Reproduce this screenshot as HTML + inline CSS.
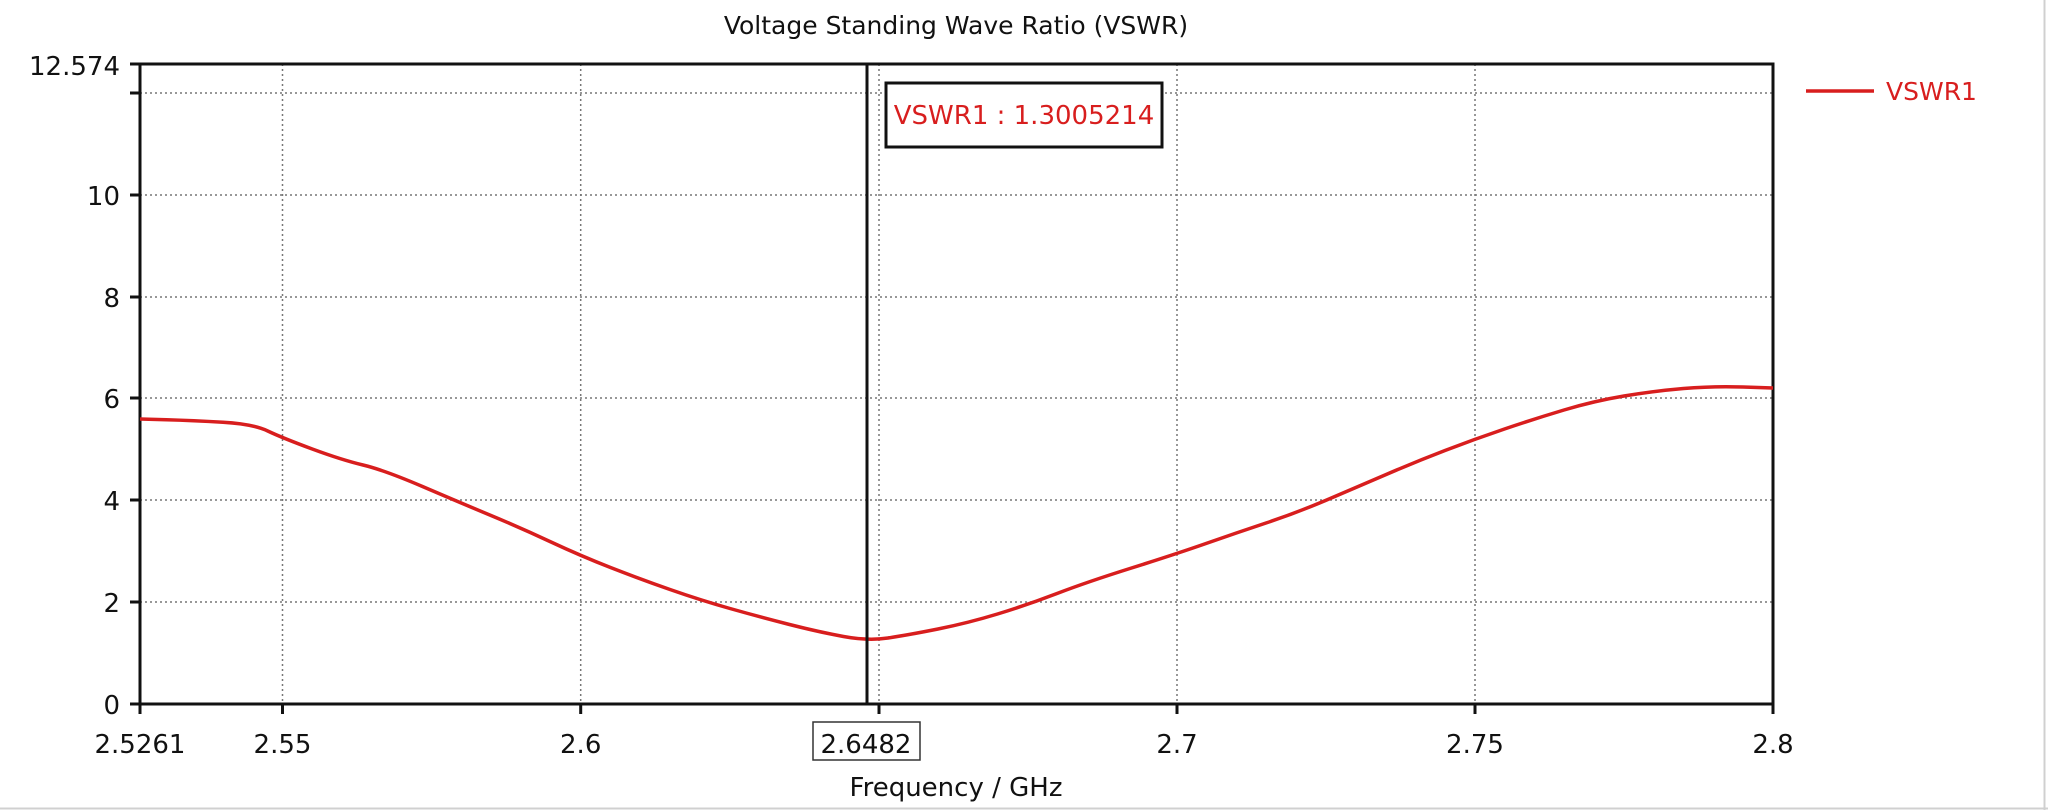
<!DOCTYPE html>
<html><head><style>
html,body{margin:0;padding:0;background:#fff;}
svg{display:block;}
text{font-family:"DejaVu Sans","Liberation Sans",sans-serif;}
</style></head><body>
<svg width="2048" height="812" viewBox="0 0 2048 812" xmlns="http://www.w3.org/2000/svg">
<rect x="0" y="0" width="2048" height="812" fill="#fff"/>
<line x1="0" y1="808.5" x2="2048" y2="808.5" stroke="#d0d0d0" stroke-width="2"/>
<line x1="2044.5" y1="0" x2="2044.5" y2="810" stroke="#d0d0d0" stroke-width="2"/>
<text x="956" y="34" font-size="25" text-anchor="middle" fill="#111">Voltage Standing Wave Ratio (VSWR)</text>
<g stroke="#777" stroke-width="1.5" stroke-dasharray="2,3">
<line x1="140" y1="93" x2="1773" y2="93"/>
<line x1="140" y1="195" x2="1773" y2="195"/>
<line x1="140" y1="297" x2="1773" y2="297"/>
<line x1="140" y1="398" x2="1773" y2="398"/>
<line x1="140" y1="500" x2="1773" y2="500"/>
<line x1="140" y1="602" x2="1773" y2="602"/>
<line x1="282.5" y1="64" x2="282.5" y2="704"/>
<line x1="580.7" y1="64" x2="580.7" y2="704"/>
<line x1="879" y1="64" x2="879" y2="704"/>
<line x1="1177" y1="64" x2="1177" y2="704"/>
<line x1="1475" y1="64" x2="1475" y2="704"/>
</g>
<g stroke="#111" stroke-width="3">
<rect x="140" y="64" width="1633" height="640" fill="none"/>
<line x1="130" y1="64" x2="140" y2="64"/><line x1="130" y1="93" x2="140" y2="93"/>
<line x1="130" y1="195" x2="140" y2="195"/><line x1="130" y1="297" x2="140" y2="297"/>
<line x1="130" y1="398" x2="140" y2="398"/><line x1="130" y1="500" x2="140" y2="500"/>
<line x1="130" y1="602" x2="140" y2="602"/><line x1="130" y1="704" x2="140" y2="704"/>
<line x1="140" y1="704" x2="140" y2="714"/><line x1="282.5" y1="704" x2="282.5" y2="714"/>
<line x1="580.7" y1="704" x2="580.7" y2="714"/><line x1="879" y1="704" x2="879" y2="714"/>
<line x1="1177" y1="704" x2="1177" y2="714"/><line x1="1475" y1="704" x2="1475" y2="714"/>
<line x1="1773" y1="704" x2="1773" y2="714"/>
</g>
<g font-size="26" fill="#111" text-anchor="end">
<text x="120" y="75">12.574</text>
<text x="120" y="205">10</text>
<text x="120" y="307">8</text>
<text x="120" y="408">6</text>
<text x="120" y="510">4</text>
<text x="120" y="612">2</text>
<text x="120" y="714">0</text>
</g>
<g font-size="26" fill="#111" text-anchor="middle">
<text x="140" y="753">2.5261</text>
<text x="282.5" y="753">2.55</text>
<text x="580.7" y="753">2.6</text>
<text x="1177" y="753">2.7</text>
<text x="1475" y="753">2.75</text>
<text x="1773" y="753">2.8</text>
<rect x="813" y="722" width="107" height="38" fill="#fff" stroke="#333" stroke-width="1.5"/>
<text x="866" y="753">2.6482</text>
<text x="956" y="796">Frequency / GHz</text>
</g>
<path fill="none" stroke="#d81e1e" stroke-width="3.5" stroke-linejoin="round" d="M140,419 L166.5,419.75 Q193,420.5 223,422.25 Q253,424 267.75,431 Q282.5,438 312.25,449 Q342,460 363,465 Q384,470 422.5,486.5 Q461,503 491,515.5 Q521,528 551,542 Q581,556 610.5,567.5 Q640,579 670,589.5 Q700,600 730,608.5 Q760,617 789.5,624.5 Q819,632 843.5,636.5 Q868,641 888,638 Q908,635 938,629 Q968,623 997.5,614 Q1027,605 1057,593.5 Q1087,582 1131.5,568 Q1176,554 1206,543.5 Q1236,533 1266,523 Q1296,513 1325.5,500.5 Q1355,488 1385,475 Q1415,462 1445,450.5 Q1475,439 1504.5,429 Q1534,419 1564,410 Q1594,401 1624,396 Q1654,391 1683.5,388.5 Q1713,386 1743,387 L1773,388"/>
<line x1="867" y1="64" x2="867" y2="704" stroke="#111" stroke-width="3"/>
<rect x="886" y="83" width="276" height="64" fill="#fff" stroke="#111" stroke-width="3"/>
<text x="1024" y="124" font-size="26" fill="#d81e1e" text-anchor="middle">VSWR1 : 1.3005214</text>
<line x1="1806" y1="91" x2="1874" y2="91" stroke="#d81e1e" stroke-width="3.5"/>
<text x="1886" y="100" font-size="25" fill="#d81e1e">VSWR1</text>
</svg>
</body></html>
